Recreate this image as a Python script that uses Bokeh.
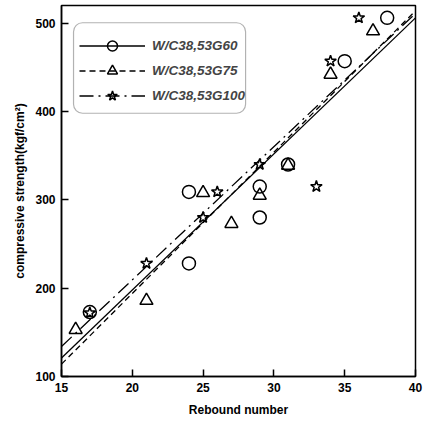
from bokeh.plotting import figure
from bokeh.models import Legend, LegendItem, Range1d, FixedTicker, BoxAnnotation
from bokeh.embed import file_html
from bokeh.resources import INLINE

# Data
g60_x = [17, 24, 24, 29, 29, 31, 35, 38]
g60_y = [173, 309, 228, 315, 280, 340, 457, 506]
g75_x = [16, 21, 25, 27, 29, 31, 34, 37]
g75_y = [153, 186, 308, 273, 305, 339, 442, 491]
g100_x = [17, 21, 25, 26, 29, 33, 34, 36]
g100_y = [172, 228, 280, 309, 340, 315, 457, 506]
fit_x = [15, 40]
fit_g60 = [121, 506]
fit_g75 = [114, 514]
fit_g100 = [134, 511]
labels = ["W/C38,53G60", "W/C38,53G75", "W/C38,53G100"]

p = figure(width=425, height=423, output_backend="svg", toolbar_location=None,
           x_range=Range1d(15, 40), y_range=Range1d(100, 520),
           min_border_left=61, min_border_right=10, min_border_top=5, min_border_bottom=47,
           frame_width=354, frame_height=371)
p.grid.visible = False
p.outline_line_color = "black"
p.outline_line_width = 1.5
p.background_fill_color = "white"

for ax in (p.xaxis[0], p.yaxis[0]):
    ax.axis_line_color = "black"
    ax.axis_line_width = 1.5
    ax.major_tick_in = 7
    ax.major_tick_out = 0
    ax.minor_tick_in = 0
    ax.minor_tick_out = 0
    ax.major_tick_line_width = 1.5
    ax.major_label_text_font = "Liberation Sans"
    ax.major_label_text_font_style = "bold"
    ax.major_label_text_font_size = "12px"
    ax.major_label_text_color = "black"
    ax.axis_label_text_font = "Liberation Sans"
    ax.axis_label_text_font_style = "bold"
    ax.axis_label_text_font_size = "12px"
    ax.axis_label_text_color = "black"

p.xaxis.ticker = FixedTicker(ticks=[15, 20, 25, 30, 35, 40])
p.yaxis.ticker = FixedTicker(ticks=[100, 200, 300, 400, 500])
p.xaxis.axis_label = "Rebound number"
p.yaxis.axis_label = "compressive strength(kgf/cm²)"
p.xaxis.major_label_standoff = 6
p.xaxis.axis_label_standoff = 8
p.yaxis.major_label_standoff = 6
p.yaxis.axis_label_standoff = 5

l1 = p.line(fit_x, fit_g60, line_color="black", line_width=1.3)
l2 = p.line(fit_x, fit_g75, line_color="black", line_width=1.3, line_dash="6 4")
l3 = p.line(fit_x, fit_g100, line_color="black", line_width=1.3, line_dash="14 5 2 5")

s1 = p.scatter(g60_x, g60_y, marker="circle", size=13, fill_color=None, line_color="black", line_width=1.5)
s2 = p.scatter(g75_x, g75_y, marker="triangle", size=13, fill_color=None, line_color="black", line_width=1.5)
s3 = p.scatter(g100_x, g100_y, marker="star", size=12, fill_color=None, line_color="black", line_width=1.5)

# rounded legend frame
box = BoxAnnotation(left=15.85, right=28.0, bottom=398, top=500.5,
                    fill_color=None, line_color="black", line_width=1.2)
if "border_radius" in BoxAnnotation.properties():
    box.border_radius = 9
p.add_layout(box)

legend = Legend(items=[
    LegendItem(label=labels[0], renderers=[l1, s1]),
    LegendItem(label=labels[1], renderers=[l2, s2]),
    LegendItem(label=labels[2], renderers=[l3, s3]),
], location=(18, 268))
legend.glyph_width = 66
legend.glyph_height = 25
legend.label_text_font = "Liberation Sans"
legend.label_text_font_style = "bold italic"
legend.label_text_font_size = "13.5px"
legend.border_line_color = None
legend.background_fill_alpha = 0
legend.padding = 3
legend.spacing = 0
legend.margin = 0
legend.label_standoff = 7
p.add_layout(legend)

open("out.html", "w").write(file_html(p, INLINE))
